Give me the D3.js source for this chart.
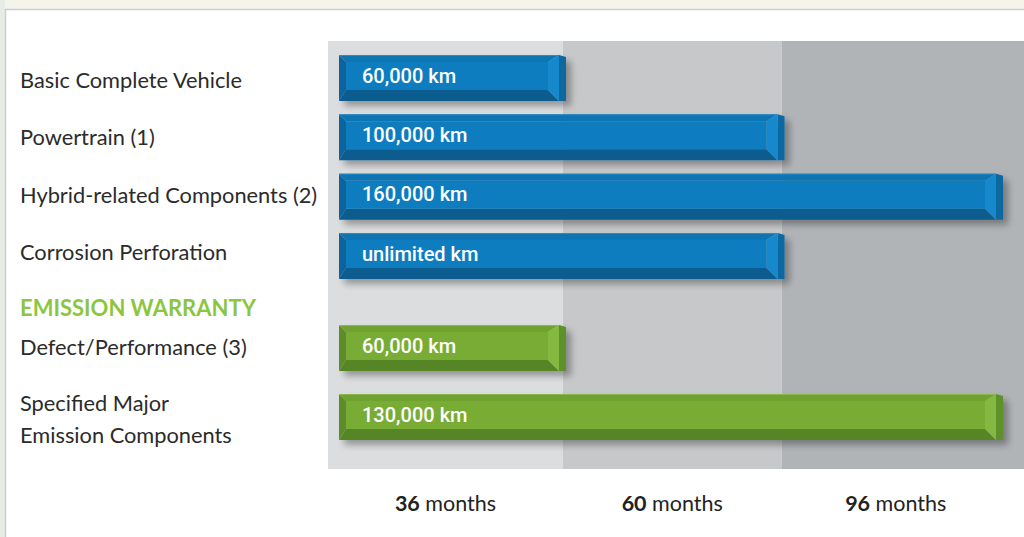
<!DOCTYPE html>
<html>
<head>
<meta charset="utf-8">
<script src="https://cdn.jsdelivr.net/npm/d3@7"></script>
<style>
  html, body { margin: 0; padding: 0; background: #f4f3ea; }
  svg { display: block; }
</style>
</head>
<body>
<svg id="chart" width="1024" height="537"></svg>
<script>
// ---------------- data ----------------
const warrantyRows = ["Basic Complete Vehicle", "Powertrain (1)", "Hybrid-related Components (2)", "Corrosion Perforation"];
const emissionRows = ["Defect/Performance (3)", "Specified Major\nEmission Components"];
const sectionTitle = "EMISSION WARRANTY";
const terms = ["36 months", "60 months", "96 months"];           // tick labels
const warrantyTerm = ["36 months", "60 months", "96 months", "60 months"];
const warrantyKm = ["60,000 km", "100,000 km", "160,000 km", "unlimited km"];
const emissionTerm = ["36 months", "96 months"];
const emissionKm = ["60,000 km", "130,000 km"];

// ---------------- setup ----------------
const W = 1024, H = 537;
const svg = d3.select("#chart");
const FONT = "Lato, 'Open Sans', sans-serif";
const BARFONT = "Roboto, Lato, sans-serif";

const defs = svg.append("defs");
const f = defs.append("filter").attr("id", "shadow")
  .attr("x", "-5%").attr("y", "-30%").attr("width", "115%").attr("height", "170%");
f.append("feGaussianBlur").attr("in", "SourceAlpha").attr("stdDeviation", 3.5).attr("result", "b");
f.append("feOffset").attr("in", "b").attr("dx", 5).attr("dy", 5).attr("result", "o");
f.append("feComponentTransfer").attr("in", "o").attr("result", "s")
  .append("feFuncA").attr("type", "linear").attr("slope", 0.33);
const m = f.append("feMerge");
m.append("feMergeNode").attr("in", "s");
m.append("feMergeNode").attr("in", "SourceGraphic");

// outer background / panel
svg.append("rect").attr("x", 0).attr("y", 0).attr("width", W).attr("height", H).attr("fill", "#f5f4eb");
svg.append("rect").attr("x", 0).attr("y", 0).attr("width", 5).attr("height", H).attr("fill", "#e8ece6");
svg.append("rect").attr("x", 5.5).attr("y", 9.5).attr("width", W).attr("height", H)
  .attr("fill", "#ffffff").attr("stroke", "#c9cdd1").attr("stroke-width", 1.5);

// ---------------- scales ----------------
const barStart = 339;
const xEnd = d3.scalePoint().domain(terms).range([566, 1003]);
const bandTop = 41, bandBottom = 469, plotLeft = 328;
const edges = [plotLeft, xEnd(terms[0]) - 3, xEnd(terms[1]) - 3, W];
const bandColors = ["#dcdddf", "#c7c8ca", "#b1b4b7"];

const yW = d3.scaleBand().domain(warrantyRows).range([55, 279]).paddingInner(0.2247);
const yE = d3.scaleBand().domain(emissionRows).range([325, 440]).paddingInner(1 / 3);
const yLabW = d3.scalePoint().domain(warrantyRows).range([80, 252]);
const yLabE = d3.scalePoint().domain(emissionRows).range([347, 419]);

// bands
svg.append("g").selectAll("rect").data(terms).join("rect")
  .attr("x", (d, i) => edges[i])
  .attr("y", bandTop)
  .attr("width", (d, i) => edges[i + 1] - edges[i])
  .attr("height", bandBottom - bandTop)
  .attr("fill", (d, i) => bandColors[i]);

// month labels
const lastEnd = xEnd(terms[2]) + 7;
const tickG = svg.append("g");
terms.forEach((t, i) => {
  const cx = (edges[i] + Math.min(edges[i + 1], lastEnd)) / 2;
  const parts = t.split(" ");
  const tx = tickG.append("text").attr("x", cx).attr("y", 511)
    .attr("text-anchor", "middle").attr("font-family", FONT).attr("font-size", 21.5).attr("fill", "#222");
  tx.append("tspan").attr("font-weight", 700).text(parts[0]);
  tx.append("tspan").text(" " + parts[1]);
});

// ---------------- bars ----------------
const palettes = {
  blue:  { face: "#0a7dbf", top: "#0d74b1", left: "#0a639d", bottom: "#075b8f", right: "#1389cd", side: "#0a679f", edge: "#2a8ac6" },
  green: { face: "#79ac36", top: "#70a232", left: "#5d8d29", bottom: "#568526", right: "#83b93f", side: "#5f912a", edge: "#8ab94a" }
};

function drawBar(g, y0, h, x1, label, pal) {
  const X0 = barStart, X1 = x1 - 7, Y0 = y0, Y1 = y0 + h;
  const t = 7, l = 7, b = 11, r = 11;
  const bar = g.append("g").attr("filter", "url(#shadow)");
  const poly = (pts, fill) => bar.append("polygon").attr("points", pts.map(p => p.join(",")).join(" ")).attr("fill", fill);
  poly([[X1, Y0], [x1, Y0 + 2], [x1, Y1], [X1, Y1]], pal.side);
  poly([[X0, Y0], [X1, Y0], [X1 - r, Y0 + t], [X0 + l, Y0 + t]], pal.top);
  poly([[X0, Y1], [X1, Y1], [X1 - r, Y1 - b], [X0 + l, Y1 - b]], pal.bottom);
  poly([[X0, Y0], [X0 + l, Y0 + t], [X0 + l, Y1 - b], [X0, Y1]], pal.left);
  poly([[X1, Y0], [X1 - r, Y0 + t], [X1 - r, Y1 - b], [X1, Y1]], pal.right);
  bar.append("rect").attr("x", X0 + l).attr("y", Y0 + t).attr("width", X1 - r - X0 - l).attr("height", h - t - b).attr("fill", pal.face);
  bar.append("line").attr("x1", X0).attr("x2", X1).attr("y1", Y0 + 0.5).attr("y2", Y0 + 0.5)
    .attr("stroke", pal.edge).attr("stroke-width", 1);
  g.append("text").attr("x", 362).attr("y", Y0 + t + (h - t - b) / 2 - 0.5)
    .attr("dy", "0.36em").attr("font-family", BARFONT).attr("font-size", 20).attr("font-weight", 500)
    .attr("fill", "#ffffff").text(label);
}

const barsG = svg.append("g");
warrantyRows.forEach((c, i) => drawBar(barsG, yW(c), yW.bandwidth(), xEnd(warrantyTerm[i]), warrantyKm[i], palettes.blue));
emissionRows.forEach((c, i) => drawBar(barsG, yE(c), yE.bandwidth(), xEnd(emissionTerm[i]), emissionKm[i], palettes.green));

// ---------------- row labels ----------------
const labG = svg.append("g").attr("font-family", FONT).attr("font-size", 21.8).attr("fill", "#2b2b2b");
function rowLabel(text, cy) {
  const lines = text.split("\n");
  const lh = 32;
  lines.forEach((ln, k) => {
    labG.append("text").attr("x", 20).attr("y", cy + (k - (lines.length - 1) / 2) * lh)
      .attr("dy", "0.36em").text(ln);
  });
}
warrantyRows.forEach(c => rowLabel(c, yLabW(c)));
emissionRows.forEach(c => rowLabel(c, yLabE(c)));

svg.append("text").attr("x", 20).attr("y", 308).attr("dy", "0.36em")
  .attr("font-family", FONT).attr("font-size", 22).attr("font-weight", 700)
  .attr("fill", "#8cc63f").text(sectionTitle);
</script>
</body>
</html>
